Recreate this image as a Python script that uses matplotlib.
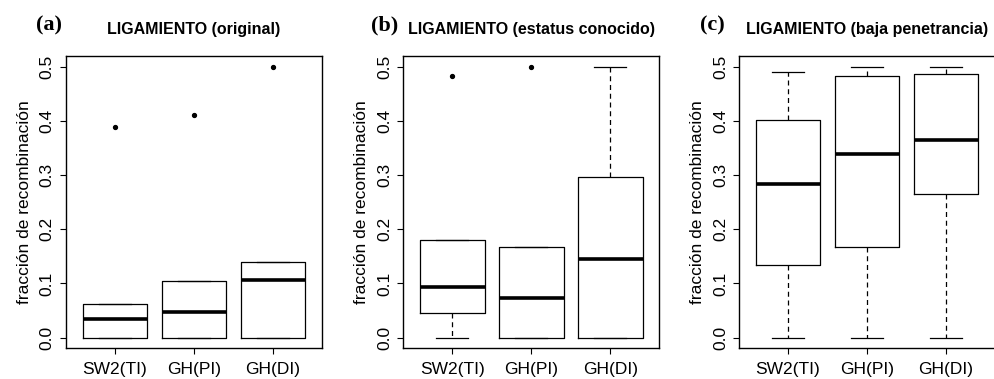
import matplotlib.pyplot as plt

plt.rcParams['font.family'] = ['Liberation Sans', 'DejaVu Sans']

# marker groups on the x axis
groups = ['SW2(TI)', 'GH(PI)', 'GH(DI)']

# (a) original linkage
a_whislo = [0.0, 0.0, 0.0]
a_q1 = [0.0, 0.0, 0.0]
a_med = [0.035, 0.047, 0.106]
a_q3 = [0.062, 0.105, 0.139]
a_whishi = [0.062, 0.105, 0.139]
a_fliers = [[0.389], [0.411], [0.5]]

# (b) known status
b_whislo = [0.0, 0.0, 0.0]
b_q1 = [0.046, 0.0, 0.0]
b_med = [0.093, 0.074, 0.145]
b_q3 = [0.181, 0.167, 0.297]
b_whishi = [0.181, 0.167, 0.5]
b_fliers = [[0.483], [0.5], []]

# (c) low penetrance
c_whislo = [0.0, 0.0, 0.0]
c_q1 = [0.135, 0.167, 0.265]
c_med = [0.283, 0.339, 0.364]
c_q3 = [0.401, 0.482, 0.487]
c_whishi = [0.491, 0.5, 0.5]
c_fliers = [[], [], []]

panels = [
    ('(a)', 'LIGAMIENTO (original)',
     a_whislo, a_q1, a_med, a_q3, a_whishi, a_fliers),
    ('(b)', 'LIGAMIENTO (estatus conocido)',
     b_whislo, b_q1, b_med, b_q3, b_whishi, b_fliers),
    ('(c)', 'LIGAMIENTO (baja penetrancia)',
     c_whislo, c_q1, c_med, c_q3, c_whishi, c_fliers),
]
lefts = [0.0663, 0.4053, 0.7427]
letter_x = [-0.066, -0.074, -0.105]

fig = plt.figure(figsize=(9.95, 3.79), dpi=100)

for i, (letter, title, wlo, q1, med, q3, whi, fl) in enumerate(panels):
    ax = fig.add_axes([lefts[i], 0.0805, 0.2573, 0.772])
    stats = []
    for k in range(len(groups)):
        stats.append({'whislo': wlo[k], 'q1': q1[k], 'med': med[k],
                      'q3': q3[k], 'whishi': whi[k], 'fliers': fl[k],
                      'label': groups[k]})
    ax.bxp(stats, positions=[1, 2, 3], widths=0.82, showfliers=True,
           boxprops=dict(color='black', linewidth=0.9),
           medianprops=dict(color='black', linewidth=2.6, solid_capstyle='butt'),
           whiskerprops=dict(color='black', linewidth=0.9, linestyle=(0, (4, 3))),
           capprops=dict(color='black', linewidth=0.9),
           capwidths=0.41,
           flierprops=dict(marker='o', markersize=2.8, markerfacecolor='black',
                           markeredgecolor='black', linestyle='none'))
    ax.set_xlim(0.38, 3.62)
    ax.set_ylim(-0.02, 0.52)
    ax.set_yticks([0.0, 0.1, 0.2, 0.3, 0.4, 0.5])
    ax.set_yticklabels(['0.0', '0.1', '0.2', '0.3', '0.4', '0.5'],
                       rotation=90, va='center')
    ax.set_xticks([1, 2, 3])
    ax.set_xticklabels(groups)
    ax.tick_params(direction='out', length=4, width=0.8, labelsize=12.5,
                   colors='black')
    ax.tick_params(axis='x', pad=6)
    ax.tick_params(axis='y', pad=4)
    ax.set_ylabel('fracción de recombinación', fontsize=12.5, labelpad=6)
    for s in ax.spines.values():
        s.set_linewidth(1.0)
    ax.text(0.5, 1.09, title, transform=ax.transAxes, ha='center', va='center',
            fontsize=11.5, fontweight='bold')
    ax.text(letter_x[i], 1.105, letter, transform=ax.transAxes, ha='center',
            va='center', fontsize=16, fontweight='bold',
            family='Liberation Serif')

fig.savefig('out.png', dpi=100)
